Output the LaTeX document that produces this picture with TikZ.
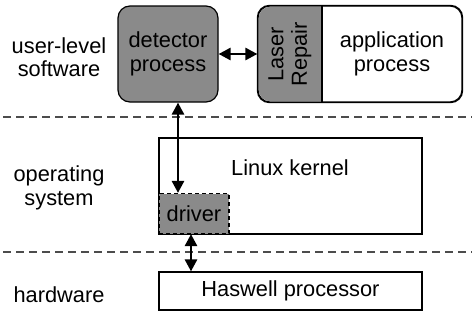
\documentclass[tikz,border=0pt]{standalone}
\usepackage{fontspec}
\setmainfont{Liberation Sans}
\usetikzlibrary{arrows.meta}
\definecolor{grayc}{RGB}{138,138,138}
\begin{document}
\begin{tikzpicture}[x=1pt,y=-1pt,
  every node/.style={font=\fontsize{21.8}{23.5}\selectfont, inner sep=0pt, align=center},
  box/.style={draw=black, line width=1.2pt},
  sep/.style={draw=black!70, line width=1.3pt, dash pattern=on 8pt off 5pt},
  dbl/.style={line width=2.6pt, {Triangle[length=12pt,width=12pt]}-{Triangle[length=12pt,width=12pt]}}]
\useasboundingbox (0,0) rectangle (472,322);
% separators
\draw[sep] (3,117) -- (472,117);
\draw[sep] (3,252) -- (472,252);
% left labels
\node (lu) at (59,57) {user-level\\software};
\node (lo) at (59,188) {operating\\system};
\node (lh) at (59,295) {hardware};
% detector
\node[box, rounded corners=12pt, fill=grayc, minimum width=100pt, minimum height=96pt] (det) at (168,54) {detector\\process};
% application
\node[box, rounded corners=12pt, fill=white, minimum width=204pt, minimum height=96pt] (app) at (360,54) {};
\begin{scope}
\clip (258,0) rectangle (322,110);
\fill[grayc, rounded corners=12pt] (258.6,6.6) rectangle (461.4,101.4);
\end{scope}
\draw[box, rounded corners=12pt] (app.north west) rectangle (app.south east);
\draw[line width=1.2pt] (322,6) -- (322,102);
\node[rotate=90] (laser) at (290,54) {Laser\\Repair};
\node (apptext) at (392,54) {application\\process};
% kernel
\node[box, fill=white, minimum width=263pt, minimum height=96pt] (kern) at (290.5,186) {};
\node (kerntext) at (290,168) {Linux kernel};
\node[draw=black, line width=1.2pt, dash pattern=on 4pt off 3pt, fill=grayc, minimum width=70pt, minimum height=40pt] (drv) at (194,213.5) {driver};
% haswell
\node[box, fill=white, minimum width=263pt, minimum height=38pt] (has) at (290.5,291) {Haswell processor};
% arrows
\draw[dbl] (det.east) -- (app.west);
\draw[dbl] ([xshift=10pt]det.south) -- ([xshift=10pt]det.south |- drv.north);
\draw[dbl] ([xshift=-3pt]drv.south) -- ([xshift=-3pt]drv.south |- has.north);
\end{tikzpicture}
\end{document}
